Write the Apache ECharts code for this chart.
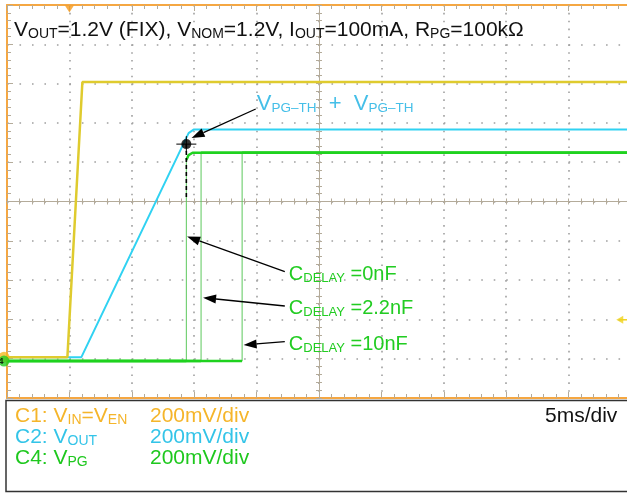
<!DOCTYPE html>
<html><head><meta charset="utf-8">
<script src="https://cdn.jsdelivr.net/npm/echarts@6/dist/echarts.min.js"></script>
<style>html,body{margin:0;padding:0;background:#fff;overflow:hidden}#c{width:627px;height:494px}</style>
</head><body><div id="c"></div>
<script>
// ---- scope settings ----
const msPerDiv = 5;          // 5 ms/div, 10 divisions
const voltsPerDiv = 0.2;     // 200 mV/div on all channels
const ch1Offset = 1.04;      // ground positions (divisions from bottom)
const ch2Offset = 1.04;
const ch4Offset = 0.94;

// ---- C1: VIN = VEN (time ms, volts) ----
const vinT = [0, 4.84, 6.04, 50];
const vinV = [0, 0, 1.40, 1.40];
// ---- C2: VOUT ----
const voutT = [0, 5.96, 14.55, 14.95, 50];
const voutV = [0, 0, 1.14, 1.158, 1.158];
// ---- C4: VPG for three CDELAY values ----
const pg0T = [0, 14.37, 14.37, 14.55, 14.87, 50];
const pg0V = [0, 0, 1.023, 1.048, 1.06, 1.06];
const pg22T = [0, 15.55, 15.55, 50];
const pg22V = [0, 0, 1.06, 1.06];
const pg10T = [0, 18.84, 18.84, 50];
const pg10V = [0, 0, 1.06, 1.06];
// ---- markers ----
const trigTime = 5.0;        // trigger position (ms)
const trigLevelV = 0.19;     // trigger level on C1 (V)
const vpgThT = 14.37;        // VPG threshold point on C2
const vpgThV = 1.084;
const vpgDashEndV = 0.81;    // dashed marker end (C2 volts)

const F = 'Liberation Sans, Arial, Helvetica, sans-serif';
const cYel = '#dfcb2e', cCyan = '#30d2f2', cGreen = '#1fd21f', cGreenThin = '#5cc85c';
const cGrid = '#a0a0a0', cTick = '#b4ab9a', cBorder = '#f5a742';

const toDiv = (v, off) => off + v / voltsPerDiv;
const zip = (ts, vs, off) => ts.map((t, i) => [t, toDiv(vs[i], off)]);
// fast (vertical) edges are drawn thin, like on the scope screen
function thick(ts, vs, off) {
  const out = [];
  for (let i = 0; i < ts.length; i++) {
    if (i > 0 && ts[i] === ts[i - 1]) out.push([ts[i], '-']);
    out.push([ts[i], toDiv(vs[i], off)]);
  }
  return out;
}
function thin(ts, vs, off) {
  const out = [];
  for (let i = 1; i < ts.length; i++) {
    if (ts[i] === ts[i - 1]) {
      out.push([ts[i - 1], toDiv(vs[i - 1], off)], [ts[i], toDiv(vs[i], off)], [ts[i], '-']);
    }
  }
  return out;
}

const gridRect = {left: 7, top: 5, width: 624, height: 393, show: false, outerBoundsMode: 'none', containLabel: false};
const none = {show: false};
function borderX(pos) {
  return {gridIndex: 0, type: 'value', min: 0, max: 10 * msPerDiv, interval: msPerDiv, position: pos,
    axisLine: {show: true, onZero: false, lineStyle: {color: cBorder, width: 2}},
    axisTick: {show: true, inside: true, length: 6, lineStyle: {color: cTick}},
    minorTick: {show: true, splitNumber: 5, length: 4, lineStyle: {color: cTick}},
    axisLabel: none, splitLine: none};
}
function centerX(pos) {
  return {gridIndex: 1, type: 'value', min: -25, max: 25, interval: 5, position: pos,
    axisLine: {show: true, onZero: true, lineStyle: {color: cTick, width: 1}},
    axisTick: {show: true, inside: true, length: 3, lineStyle: {color: cTick}},
    minorTick: {show: true, splitNumber: 5, length: 3, lineStyle: {color: cTick}},
    axisLabel: none, splitLine: none};
}
function centerY(pos) {
  return {gridIndex: 1, type: 'value', min: -5, max: 5, interval: 1, position: pos,
    axisLine: {show: true, onZero: true, lineStyle: {color: cTick, width: 1}},
    axisTick: {show: true, inside: true, length: 3, lineStyle: {color: cTick}},
    minorTick: {show: true, splitNumber: 5, length: 3, lineStyle: {color: cTick}},
    axisLabel: none, splitLine: none};
}

const line = (data, color, width, extra) => Object.assign({
  type: 'line', xAxisIndex: 0, yAxisIndex: 0, data, symbol: 'none', showSymbol: false,
  connectNulls: false, lineStyle: {color, width}, silent: true, z: 3
}, extra || {});

const option = {
  animation: false,
  backgroundColor: '#fff',
  grid: [gridRect, Object.assign({}, gridRect), Object.assign({}, gridRect)],
  xAxis: [borderX('bottom'), borderX('top'), centerX('bottom'), centerX('top'),
    // dotted graticule (grid 2)
    {gridIndex: 2, type: 'value', min: 0, max: 10 * msPerDiv, interval: msPerDiv,
      axisLine: none, axisTick: none, axisLabel: none,
      splitLine: {show: true, lineStyle: {color: cGrid, width: 1.6, type: [1.6, 6.26]}}}],
  yAxis: [
    {gridIndex: 0, type: 'value', min: 0, max: 10, interval: 1, position: 'left',
      axisLine: {show: true, onZero: false, lineStyle: {color: cBorder, width: 2}},
      axisTick: {show: true, inside: true, length: 6, lineStyle: {color: cTick}},
      minorTick: {show: true, splitNumber: 5, length: 4, lineStyle: {color: cTick}},
      axisLabel: none, splitLine: none},
    centerY('left'), centerY('right'),
    {gridIndex: 2, type: 'value', min: 0, max: 10, interval: 1,
      axisLine: none, axisTick: none, axisLabel: none,
      splitLine: {show: true, lineStyle: {color: cGrid, width: 1.6, type: [1.6, 10.88]}}}
  ],
  series: [
    line(zip(voutT, voutV, ch2Offset), cCyan, 2),
    line(zip(vinT, vinV, ch1Offset), cYel, 2.5),
    line(thin(pg0T, pg0V, ch4Offset), cGreenThin, 1),
    line(thin(pg22T, pg22V, ch4Offset), cGreenThin, 1),
    line(thin(pg10T, pg10V, ch4Offset), cGreenThin, 1),
    line(thick(pg0T, pg0V, ch4Offset), cGreen, 2.5),
    line(thick(pg22T, pg22V, ch4Offset), cGreen, 2.5),
    line(thick(pg10T, pg10V, ch4Offset), cGreen, 2.5),
    line([[vpgThT, toDiv(vpgThV, ch2Offset)], [vpgThT, toDiv(vpgDashEndV, ch2Offset)]], '#000', 1.6,
      {lineStyle: {color: '#000', width: 1.6, type: [4, 3]}, z: 4}),
    {type: 'scatter', xAxisIndex: 0, yAxisIndex: 0, data: [[vpgThT, toDiv(vpgThV, ch2Offset)]],
      symbol: 'circle', symbolSize: 10, itemStyle: {color: '#000'}, z: 6, silent: true},
    // trigger position marker
    {type: 'scatter', xAxisIndex: 0, yAxisIndex: 0, data: [[trigTime, 10]], clip: false,
      symbol: 'triangle', symbolRotate: 180, symbolSize: [9, 7], symbolOffset: [0, 4],
      itemStyle: {color: '#f59a1c'}, z: 6, silent: true},
    // trigger level marker
    {type: 'scatter', xAxisIndex: 0, yAxisIndex: 0, data: [[49.1, toDiv(trigLevelV, ch1Offset)]], clip: false,
      symbol: 'triangle', symbolRotate: 90, symbolSize: [8, 7],
      itemStyle: {color: '#f0d31c'}, z: 6, silent: true},
    line([[49.1, toDiv(trigLevelV, ch1Offset)], [50, toDiv(trigLevelV, ch1Offset)]], '#f0d31c', 1.5, {clip: false}),
    // channel ground markers
    {type: 'scatter', xAxisIndex: 0, yAxisIndex: 0, data: [[0, ch1Offset]], clip: false,
      symbol: 'circle', symbolSize: 11, symbolOffset: [-3, 0], itemStyle: {color: '#f5b820'}, z: 7, silent: true},
    {type: 'scatter', xAxisIndex: 0, yAxisIndex: 0, data: [[0, ch4Offset]], clip: false,
      symbol: 'circle', symbolSize: 11, symbolOffset: [-3, 0], itemStyle: {color: '#22cc22'}, z: 8, silent: true,
      label: {show: true, formatter: '4', position: 'inside', offset: [-3, 0], fontSize: 9, fontWeight: 'bold', color: '#000', fontFamily: F}}
  ]
};

const chart = echarts.init(document.getElementById('c'), null, {renderer: 'canvas', width: 627, height: 494});
chart.setOption(option);

const P = (t, d) => chart.convertToPixel({xAxisIndex: 0, yAxisIndex: 0}, [t, d]);

// annotation arrows: [fromTime, fromDiv, toTime, toDiv]
const arrows = [
  [19.93, 7.354, 14.79, 6.616],
  [22.26, 3.214, 14.43, 4.109],
  [22.26, 2.341, 15.71, 2.552],
  [22.26, 1.433, 18.96, 1.349]
];
const cdelayLabels = ['=0nF', '=2.2nF', '=10nF'];

function richText(x, y, text, color, big, small, drop) {
  return {type: 'text', x, y, z: 20, style: {text, verticalAlign: 'middle', align: 'left',
    rich: {n: {fontSize: big, fontFamily: F, fill: color},
           s: {fontSize: small, fontFamily: F, fill: color, padding: [drop, 0, 0, 0]}}}};
}

const g = [];
arrows.forEach(a => {
  const s = P(a[0], a[1]), e = P(a[2], a[3]);
  const dx = e[0] - s[0], dy = e[1] - s[1], L = Math.hypot(dx, dy);
  const ux = dx / L, uy = dy / L, hl = 13, hw = 4.5;
  const bx = e[0] - ux * hl, by = e[1] - uy * hl;
  g.push({type: 'line', z: 15, shape: {x1: s[0], y1: s[1], x2: bx, y2: by}, style: {stroke: '#000', lineWidth: 1.3}});
  g.push({type: 'polygon', z: 15, shape: {points: [[e[0], e[1]], [bx - uy * hw, by + ux * hw], [bx + uy * hw, by - ux * hw]]}, style: {fill: '#000'}});
});
// crosshair around the threshold point
const d = P(vpgThT, toDiv(vpgThV, ch2Offset));
g.push({type: 'line', z: 15, shape: {x1: d[0] - 10, y1: d[1], x2: d[0] + 10, y2: d[1]}, style: {stroke: '#000', lineWidth: 1}});
g.push({type: 'line', z: 15, shape: {x1: d[0], y1: d[1] - 8, x2: d[0], y2: d[1] + 8}, style: {stroke: '#000', lineWidth: 1}});

// texts
const a0 = P(arrows[0][0], arrows[0][1]);
g.push(richText(a0[0] + 1, a0[1] - 5, '{n|V}{s|PG–TH}{n|  +  V}{s|PG–TH}', '#45bfe8', 22, 13.5, 8));
for (let i = 0; i < 3; i++) {
  const s = P(arrows[i + 1][0], arrows[i + 1][1]);
  g.push(richText(s[0] + 4, s[1] + 2.5, '{n|C}{s|DELAY}{n| ' + cdelayLabels[i] + '}', '#22cc22', 20, 13, 8));
}
g.push(richText(14, 30, '{n|V}{s|OUT}{n|=1.2V (FIX), V}{s|NOM}{n|=1.2V, I}{s|OUT}{n|=100mA, R}{s|PG}{n|=100kΩ}', '#111', 21, 14, 8));

// legend box
g.push({type: 'rect', z: 10, shape: {x: 6, y: 400.5, width: 640, height: 91}, style: {fill: '#fff', stroke: '#333', lineWidth: 1.5}});
const rows = [
  ['{n|C1: V}{s|IN}{n|=V}{s|EN}', '#f5b52a', 416],
  ['{n|C2: V}{s|OUT}', '#33c4e8', 437.5],
  ['{n|C4: V}{s|PG}', '#1ec81e', 458.5]
];
rows.forEach(r => {
  g.push(richText(15, r[2], r[0], r[1], 21, 14, 8));
  g.push(richText(150, r[2], '{n|200mV/div}', r[1], 21, 14, 8));
});
g.push(richText(545, 416, '{n|5ms/div}', '#111', 21, 14, 8));

chart.setOption({graphic: g});
</script>
</body></html>
